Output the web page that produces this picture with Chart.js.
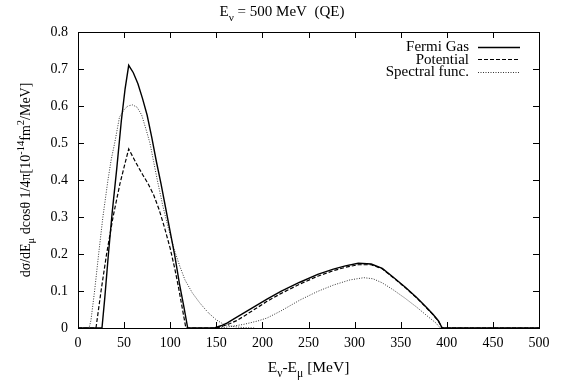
<!DOCTYPE html>
<html>
<head>
<meta charset="utf-8">
<script src="https://cdn.jsdelivr.net/npm/chart.js@4.4.1/dist/chart.umd.min.js"></script>
<style>
  html, body { margin: 0; padding: 0; background: #fff; }
</style>
</head>
<body>
<canvas id="qe" width="562" height="383"></canvas>
<script>
// energy transfer E_nu - E_mu (MeV) and cross section for each nuclear model
const fermiE   = [0, 26, 29, 33, 37, 42, 47, 51, 55, 60, 65, 70, 75, 80, 85, 90, 95, 100, 105, 110, 115, 119,
                  148, 155, 162, 170, 180, 190, 205, 220, 240, 260, 277, 290, 304, 318, 330, 342, 355, 367, 377, 385, 391, 395, 500];
const fermiXs  = [0, 0, 0.08, 0.2, 0.31, 0.43, 0.56, 0.645, 0.71, 0.69, 0.66, 0.62, 0.575, 0.515, 0.45, 0.39, 0.325, 0.26, 0.195, 0.12, 0.055, 0,
                  0, 0.006, 0.014, 0.026, 0.041, 0.056, 0.078, 0.099, 0.123, 0.145, 0.159, 0.168, 0.175, 0.173, 0.161, 0.137, 0.11, 0.083, 0.058, 0.037, 0.019, 0, 0];

const potE     = [0, 19.5, 25, 31, 38, 45.5, 51, 55, 60, 65, 70, 76, 82, 88, 94, 100, 105, 109, 113, 117,
                  150, 158, 165, 172, 180, 190, 205, 220, 240, 260, 277, 290, 304, 318, 330, 342, 355, 367, 377, 385, 391, 395, 500];
const potXs    = [0, 0, 0.1, 0.2, 0.3, 0.39, 0.445, 0.484, 0.46, 0.437, 0.415, 0.39, 0.36, 0.32, 0.27, 0.215, 0.16, 0.11, 0.055, 0,
                  0, 0.006, 0.012, 0.02, 0.032, 0.048, 0.072, 0.093, 0.118, 0.14, 0.155, 0.164, 0.171, 0.171, 0.16, 0.136, 0.109, 0.082, 0.057, 0.036, 0.018, 0, 0];

// spectral function: QE peak with its tail, then the second bump (null splits the two pieces)
const specE    = [0, 12, 14, 16, 18, 22.4, 27, 32.5, 36, 39.8, 45, 50, 54, 59, 64, 69, 74, 78, 82, 86, 92, 98, 104, 110, 116, 124, 132, 141, 150, 158, 168, 180, 192,
                  null,
                  150, 160, 168, 180, 195, 205, 220, 241, 260, 277, 295, 310, 320, 330, 342, 355, 367, 380, 388, 393, 500];
const specXs   = [0, 0, 0.02, 0.06, 0.1, 0.2, 0.3, 0.4, 0.455, 0.5, 0.57, 0.59, 0.6, 0.603, 0.597, 0.576, 0.535, 0.5, 0.45, 0.40, 0.33, 0.27, 0.215, 0.17, 0.13, 0.095, 0.068, 0.042, 0.022, 0.01, 0.004, 0.001, 0,
                  null,
                  0, 0.002, 0.005, 0.01, 0.019, 0.027, 0.046, 0.076, 0.099, 0.116, 0.13, 0.136, 0.133, 0.122, 0.103, 0.08, 0.057, 0.03, 0.014, 0, 0];

const xTicks = [0, 50, 100, 150, 200, 250, 300, 350, 400, 450, 500];
const yTicks = [0, 0.1, 0.2, 0.3, 0.4, 0.5, 0.6, 0.7, 0.8];

const FONT = '"Liberation Serif", "Times New Roman", serif';
const SIZE = 14;

function toPoints(xs, ys) {
    return xs.map((x, i) => (x === null ? { x: NaN, y: null } : { x: x, y: ys[i] }));
}

// text with sub/superscripts, drawn piece by piece
function richWidth(ctx, parts, size) {
    let w = 0;
    parts.forEach(p => {
        ctx.font = ((p.sub || p.sup) ? size * 0.75 : size) + 'px ' + FONT;
        w += ctx.measureText(p.t).width;
    });
    return w;
}
function drawRich(ctx, parts, cx, baseline, size) {
    let x = cx - richWidth(ctx, parts, size) / 2;
    ctx.textAlign = 'left';
    ctx.textBaseline = 'alphabetic';
    parts.forEach(p => {
        ctx.font = ((p.sub || p.sup) ? size * 0.75 : size) + 'px ' + FONT;
        const dy = p.sub ? size * 0.3 : (p.sup ? -size * 0.4 : 0);
        ctx.fillText(p.t, x, baseline + dy);
        x += ctx.measureText(p.t).width;
    });
}

const titleParts = [{ t: 'E' }, { t: 'ν', sub: true }, { t: ' = 500 MeV  (QE)' }];
const xTitleParts = [{ t: 'E' }, { t: 'ν', sub: true }, { t: '-E' }, { t: 'μ', sub: true }, { t: ' [MeV]' }];
const yTitleParts = [{ t: 'dσ/dE' }, { t: 'μ', sub: true }, { t: ' dcosθ 1/4π[10' }, { t: '-14', sup: true },
                     { t: 'fm' }, { t: '2', sup: true }, { t: '/MeV]' }];

// frame with inward ticks on all four sides, titles and a gnuplot-like key
const framePlugin = {
    id: 'frame',
    afterDraw(chart) {
        const ctx = chart.ctx;
        const a = chart.chartArea;
        const xs = chart.scales.x, ys = chart.scales.y;
        const tl = 6;
        ctx.save();
        ctx.strokeStyle = '#000';
        ctx.lineWidth = 1;
        ctx.setLineDash([]);
        ctx.strokeRect(Math.round(a.left) + 0.5, Math.round(a.top) + 0.5,
                       Math.round(a.right - a.left), Math.round(a.bottom - a.top));
        ctx.beginPath();
        xTicks.forEach(v => {
            const px = Math.round(xs.getPixelForValue(v)) + 0.5;
            ctx.moveTo(px, a.bottom); ctx.lineTo(px, a.bottom - tl);
            ctx.moveTo(px, a.top); ctx.lineTo(px, a.top + tl);
        });
        yTicks.forEach(v => {
            const py = Math.round(ys.getPixelForValue(v)) + 0.5;
            ctx.moveTo(a.left, py); ctx.lineTo(a.left + tl, py);
            ctx.moveTo(a.right, py); ctx.lineTo(a.right - tl, py);
        });
        ctx.stroke();

        ctx.fillStyle = '#000';
        drawRich(ctx, titleParts, 282, 16, 15);
        drawRich(ctx, xTitleParts, (a.left + a.right) / 2, 372, 15.5);
        ctx.save();
        ctx.translate(30, (a.top + a.bottom) / 2);
        ctx.rotate(-Math.PI / 2);
        drawRich(ctx, yTitleParts, 0, 0, SIZE);
        ctx.restore();

        // key
        ctx.font = '15px ' + FONT;
        ctx.textAlign = 'right';
        ctx.textBaseline = 'middle';
        chart.data.datasets.forEach((ds, i) => {
            const y = 46.5 + i * 12.5;
            ctx.fillText(ds.label, 469, y + 1);
            ctx.beginPath();
            ctx.lineWidth = ds.borderWidth;
            ctx.strokeStyle = ds.borderColor;
            ctx.setLineDash(ds.borderDash || []);
            ctx.moveTo(478, Math.round(y) + 0.5);
            ctx.lineTo(520, Math.round(y) + 0.5);
            ctx.stroke();
        });
        ctx.restore();
    }
};

new Chart(document.getElementById('qe'), {
    type: 'scatter',
    data: {
        datasets: [
            { label: 'Fermi Gas', data: toPoints(fermiE, fermiXs), borderColor: '#000', borderWidth: 1.4, borderDash: [] },
            { label: 'Potential', data: toPoints(potE, potXs), borderColor: '#000', borderWidth: 1.2, borderDash: [4, 2] },
            { label: 'Spectral func.', data: toPoints(specE, specXs), borderColor: '#333', borderWidth: 1, borderDash: [1, 1.5] }
        ].map(ds => Object.assign(ds, { showLine: true, pointRadius: 0, tension: 0, spanGaps: false, clip: false }))
    },
    options: {
        responsive: false,
        animation: false,
        layout: { padding: { top: 32, right: 23, left: 0, bottom: 0 } },
        plugins: { legend: { display: false }, title: { display: false }, tooltip: { enabled: false } },
        scales: {
            x: {
                type: 'linear', min: 0, max: 500,
                afterBuildTicks: s => { s.ticks = xTicks.map(v => ({ value: v })); },
                afterFit: s => { s.height = 55; },
                grid: { display: false, drawTicks: false },
                border: { display: false },
                ticks: { padding: 7, color: '#000', maxRotation: 0, font: { family: FONT, size: SIZE } }
            },
            y: {
                type: 'linear', min: 0, max: 0.8,
                afterBuildTicks: s => { s.ticks = yTicks.map(v => ({ value: v })); },
                afterFit: s => { s.width = 78; },
                grid: { display: false, drawTicks: false },
                border: { display: false },
                ticks: { padding: 10, color: '#000', font: { family: FONT, size: SIZE },
                         callback: v => (v === 0 ? '0' : v.toFixed(1)) }
            }
        }
    },
    plugins: [framePlugin]
});
</script>
</body>
</html>
